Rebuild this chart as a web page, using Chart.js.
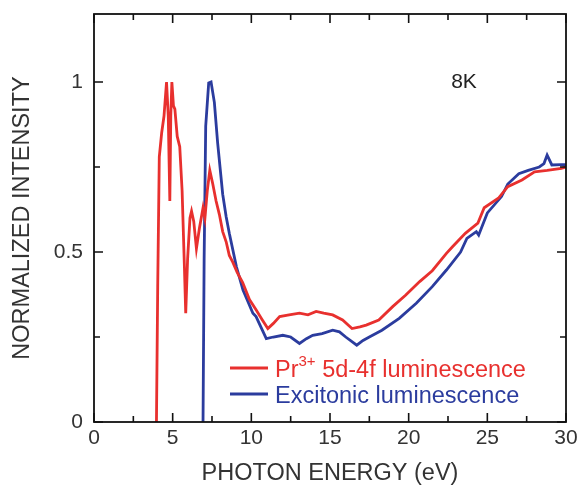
<!DOCTYPE html>
<html lang="en">
<head>
    <meta charset="UTF-8">
    <title>Normalized intensity vs photon energy</title>
    <style>
        html, body {
            margin: 0;
            padding: 0;
            background: #fff;
        }
        #wrap {
            width: 580px;
            height: 492px;
        }
    </style>
</head>
<body>
    <div id="wrap"><canvas id="chart" width="580" height="492"></canvas></div>

    <script src="https://cdn.jsdelivr.net/npm/chart.js"></script>
    <script>
        // Pr3+ 5d-4f luminescence (red)
        const redX = [3.97, 4.05, 4.15, 4.3, 4.45, 4.61, 4.72, 4.82, 4.88, 4.95, 5.05, 5.14, 5.29, 5.45, 5.6, 5.75, 5.83, 5.95, 6.1, 6.2, 6.34, 6.51, 6.7, 6.93, 7.05, 7.2, 7.36, 7.55, 7.76, 7.97, 8.18, 8.4, 8.6, 8.82, 9.1, 9.45, 9.88, 10.3, 10.7, 11.05, 11.4, 11.8, 12.4, 13.06, 13.6, 14.12, 14.6, 15.17, 15.8, 16.4, 16.9, 17.3, 18.1, 19.0, 19.8, 20.7, 21.5, 22.4, 22.8, 23.6, 24.4, 24.8, 25.7, 26.3, 27.2, 28.0, 28.8, 29.7, 30];
        const redY = [0, 0.4, 0.78, 0.85, 0.9, 1.0, 0.9, 0.65, 0.9, 1.0, 0.93, 0.92, 0.84, 0.81, 0.68, 0.45, 0.32, 0.48, 0.6, 0.62, 0.59, 0.51, 0.57, 0.63, 0.6, 0.68, 0.74, 0.7, 0.65, 0.61, 0.56, 0.53, 0.49, 0.47, 0.44, 0.41, 0.36, 0.33, 0.3, 0.275, 0.29, 0.31, 0.315, 0.32, 0.315, 0.325, 0.32, 0.315, 0.3, 0.275, 0.28, 0.285, 0.3, 0.34, 0.373, 0.413, 0.445, 0.496, 0.516, 0.555, 0.585, 0.63, 0.658, 0.692, 0.712, 0.736, 0.74, 0.746, 0.75];

        // Excitonic luminescence (blue)
        const blueX = [6.93, 7.0, 7.1, 7.29, 7.44, 7.65, 7.86, 8.18, 8.4, 8.6, 9.05, 9.47, 10.1, 10.3, 10.95, 11.4, 12.0, 12.5, 13.06, 13.5, 13.9, 14.5, 15.17, 15.6, 16.0, 16.7, 17.1, 17.5, 18.3, 19.4, 20.5, 21.5, 22.4, 23.3, 23.7, 24.3, 24.45, 25.0, 25.9, 26.3, 27.0, 27.6, 28.3, 28.6, 28.8, 29.1, 29.7, 30];
        const blueY = [0, 0.48, 0.87, 0.997, 1.0, 0.94, 0.82, 0.67, 0.604, 0.555, 0.457, 0.388, 0.32, 0.31, 0.245, 0.25, 0.255, 0.25, 0.231, 0.245, 0.255, 0.26, 0.27, 0.265, 0.25, 0.226, 0.24, 0.25, 0.27, 0.305, 0.35, 0.398, 0.447, 0.5, 0.54, 0.56, 0.55, 0.615, 0.663, 0.7, 0.73, 0.74, 0.75, 0.76, 0.785, 0.756, 0.757, 0.757];

        const xTicks = [0, 5, 10, 15, 20, 25, 30];
        const yTicks = [0, 0.5, 1];

        const RED = '#e8302e';
        const BLUE = '#2b3c9e';
        const FONT = '"Liberation Sans", Arial, sans-serif';

        function toPoints(xs, ys) {
            return xs.map((x, i) => ({ x: x, y: ys[i] }));
        }

        // frame, inward ticks on all four sides, legend and the 8K label
        const decorations = {
            id: 'decorations',
            afterDatasetsDraw(chart) {
                const ctx = chart.ctx;
                const a = chart.chartArea;
                const xs = chart.scales.x;
                const ys = chart.scales.y;

                ctx.save();
                ctx.strokeStyle = '#111';
                ctx.lineWidth = 1.8;
                ctx.strokeRect(a.left, a.top, a.right - a.left, a.bottom - a.top);

                ctx.lineWidth = 1.6;
                for (let v = 0; v <= 30.001; v += 2.5) {
                    const len = (Math.round(v * 10) % 50 === 0) ? 9 : 6;
                    const px = xs.getPixelForValue(v);
                    ctx.beginPath();
                    ctx.moveTo(px, a.bottom);
                    ctx.lineTo(px, a.bottom - len);
                    ctx.moveTo(px, a.top);
                    ctx.lineTo(px, a.top + len);
                    ctx.stroke();
                }
                for (let v = 0; v <= 1.2; v += 0.25) {
                    const len = (Math.round(v * 100) % 50 === 0) ? 9 : 6;
                    const py = ys.getPixelForValue(v);
                    ctx.beginPath();
                    ctx.moveTo(a.left, py);
                    ctx.lineTo(a.left + len, py);
                    ctx.moveTo(a.right, py);
                    ctx.lineTo(a.right - len, py);
                    ctx.stroke();
                }

                // legend
                ctx.lineWidth = 2.8;
                ctx.textBaseline = 'alphabetic';
                ctx.textAlign = 'left';

                ctx.strokeStyle = RED;
                ctx.beginPath();
                ctx.moveTo(230, 368);
                ctx.lineTo(268, 368);
                ctx.stroke();
                ctx.fillStyle = RED;
                ctx.font = '23.5px ' + FONT;
                let tx = 275;
                ctx.fillText('Pr', tx, 377);
                tx += ctx.measureText('Pr').width;
                ctx.font = '15px ' + FONT;
                ctx.fillText('3+', tx, 366);
                tx += ctx.measureText('3+').width;
                ctx.font = '23.5px ' + FONT;
                ctx.fillText(' 5d-4f luminescence', tx, 377);

                ctx.strokeStyle = BLUE;
                ctx.beginPath();
                ctx.moveTo(230, 394);
                ctx.lineTo(268, 394);
                ctx.stroke();
                ctx.fillStyle = BLUE;
                ctx.fillText('Excitonic luminescence', 275, 403);

                // temperature label
                ctx.fillStyle = '#222';
                ctx.font = '21px ' + FONT;
                ctx.textAlign = 'center';
                ctx.textBaseline = 'middle';
                ctx.fillText('8K', 464, 82);
                ctx.restore();
            }
        };

        new Chart(document.getElementById('chart'), {
            type: 'scatter',
            data: {
                datasets: [
                    {
                        label: 'Pr3+ 5d-4f luminescence',
                        data: toPoints(redX, redY),
                        showLine: true,
                        borderColor: RED,
                        borderWidth: 2.8,
                        pointRadius: 0,
                        tension: 0
                    },
                    {
                        label: 'Excitonic luminescence',
                        data: toPoints(blueX, blueY),
                        showLine: true,
                        borderColor: BLUE,
                        borderWidth: 2.8,
                        pointRadius: 0,
                        tension: 0
                    }
                ]
            },
            options: {
                responsive: false,
                animation: false,
                layout: { padding: { top: 14, right: 14, left: 0, bottom: 0 } },
                plugins: {
                    legend: { display: false },
                    tooltip: { enabled: false }
                },
                scales: {
                    x: {
                        type: 'linear',
                        min: 0,
                        max: 30,
                        afterBuildTicks: s => { s.ticks = xTicks.map(v => ({ value: v })); },
                        afterFit: s => { s.height = 70; },
                        grid: { display: false, drawTicks: true, tickLength: 6 },
                        border: { display: false },
                        ticks: {
                            padding: 0,
                            maxRotation: 0,
                            color: '#333',
                            font: { family: FONT, size: 21, lineHeight: 1 }
                        },
                        title: {
                            display: true,
                            text: 'PHOTON ENERGY (eV)',
                            color: '#333',
                            font: { family: FONT, size: 23.5 },
                            padding: { top: 0, bottom: 4 }
                        }
                    },
                    y: {
                        type: 'linear',
                        min: 0,
                        max: 1.2,
                        afterBuildTicks: s => { s.ticks = yTicks.map(v => ({ value: v })); },
                        afterFit: s => { s.width = 94; },
                        grid: { display: false, drawTicks: true, tickLength: 9 },
                        border: { display: false },
                        ticks: {
                            padding: 2,
                            color: '#333',
                            font: { family: FONT, size: 21, lineHeight: 1 },
                            callback: v => String(v)
                        },
                        title: {
                            display: true,
                            text: 'NORMALIZED INTENSITY',
                            color: '#333',
                            font: { family: FONT, size: 23.5 },
                            padding: { top: 8, bottom: 0 }
                        }
                    }
                }
            },
            plugins: [decorations]
        });
    </script>
</body>
</html>
